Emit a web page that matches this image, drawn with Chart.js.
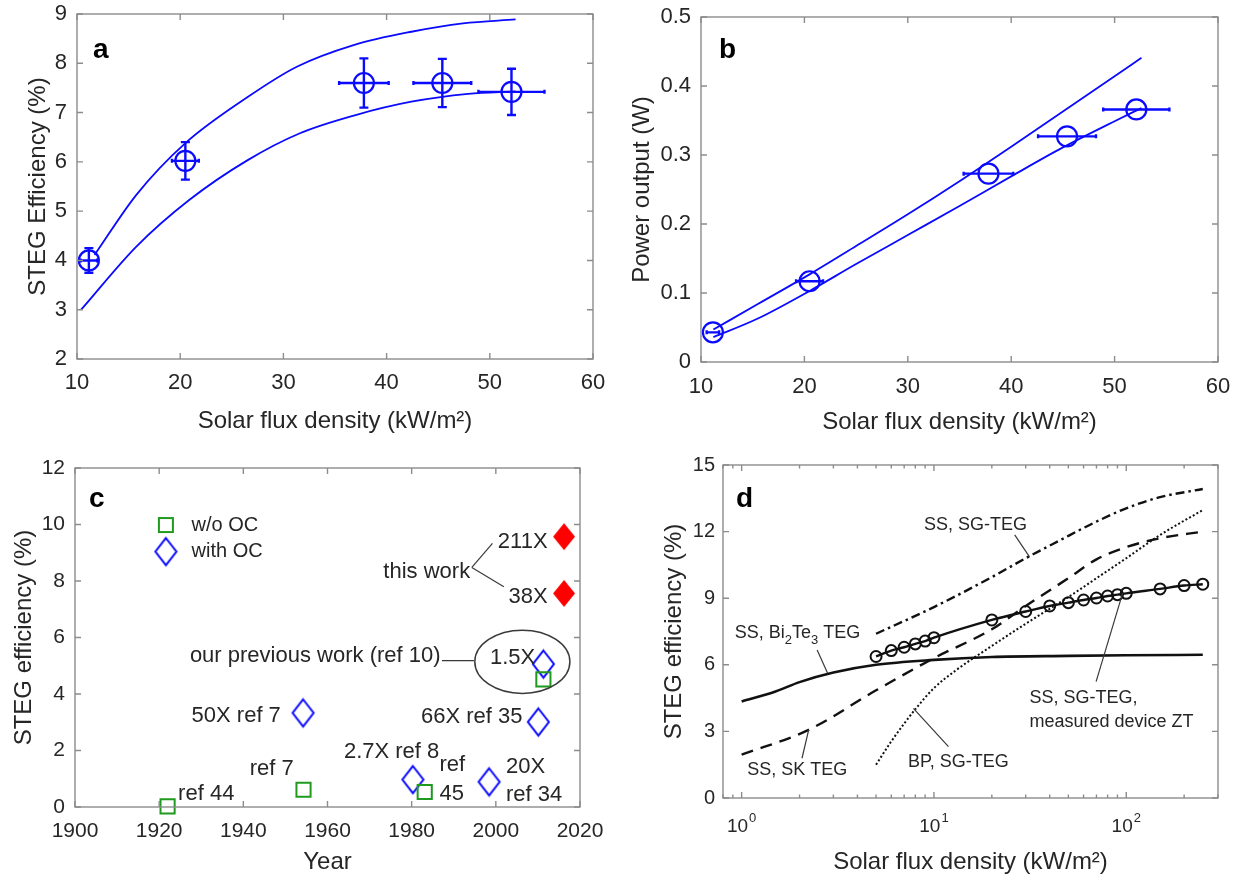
<!DOCTYPE html>
<html><head><meta charset="utf-8">
<script src="https://cdn.jsdelivr.net/npm/chart.js@4.4.1/dist/chart.umd.min.js"></script>
<style>
html,body{margin:0;padding:0;background:#fff;}
body{width:1239px;height:877px;position:relative;overflow:hidden;}
.p{position:absolute;}
canvas{display:block;}
</style></head><body>
<div class="p" style="left:0;top:0"><canvas id="ca" width="620" height="440"></canvas></div>
<div class="p" style="left:620px;top:0"><canvas id="cb" width="619" height="440"></canvas></div>
<div class="p" style="left:0;top:440px"><canvas id="cc" width="620" height="437"></canvas></div>
<div class="p" style="left:620px;top:440px"><canvas id="cd" width="619" height="437"></canvas></div>
<script>
// ---------- Panel a data ----------
const fluxMeas = [11.15, 20.5, 37.8, 45.4, 52.1];
const effMeas = [4.0, 6.02, 7.6, 7.6, 7.42];
const effErr = [0.25, 0.38, 0.5, 0.49, 0.47];
const fluxErr = [0.8, 1.3, 2.4, 2.8, 3.2];
const effUpperFlux = [11.7, 15.75, 20.5, 26.5, 31.3, 36.8, 42.4, 47.4, 52.5];
const effUpper = [4.11, 5.33, 6.38, 7.31, 7.93, 8.37, 8.64, 8.81, 8.89];
const effLowerFlux = [10.4, 15.75, 20.9, 26.5, 31.6, 37, 42.4, 47.9, 52.5];
const effLower = [3.0, 4.28, 5.23, 6.03, 6.58, 6.95, 7.22, 7.38, 7.43];
// ---------- Panel b data ----------
const powMeas = [0.043, 0.117, 0.273, 0.327, 0.366];
const powFluxErr = [0.6, 1.3, 2.4, 2.8, 3.2];
const powCurveFlux = [11.2, 15.5, 20.5, 25, 30, 35, 40, 45, 50, 52.6];
const powUpper = [0.047, 0.084, 0.127, 0.168, 0.214, 0.262, 0.312, 0.363, 0.414, 0.441];
const powLower = [0.036, 0.063, 0.103, 0.142, 0.184, 0.226, 0.269, 0.311, 0.349, 0.368];
// ---------- Panel c data ----------
const yearsNoOC = [1922, 1954.3, 1983.1, 2011.3];
const effNoOC = [0.02, 0.61, 0.53, 4.52];
const yearsOC = [1954.2, 1980.3, 1998.4, 2010.1, 2011.3];
const effOC = [3.33, 0.97, 0.89, 3.01, 5.06];
const yearsThisWork = [2016.2, 2016.2];
const effThisWork = [9.57, 7.56];
// ---------- Panel d data ----------
const fluxBi = [1, 1.5, 2, 3, 5, 10, 20, 50, 100, 250];
const effBi = [4.35, 4.8, 5.22, 5.65, 6.0, 6.22, 6.35, 6.4, 6.43, 6.45];
const fluxSK = [1, 2.23, 5, 10, 20, 30, 50, 70, 100, 150, 250];
const effSK = [1.95, 3.07, 4.85, 6.3, 7.6, 8.65, 9.9, 10.75, 11.3, 11.7, 12.0];
const fluxSG = [5, 10, 20, 30, 45, 67, 100, 148, 250];
const effSG = [7.4, 8.6, 9.95, 10.8, 11.6, 12.37, 13.05, 13.54, 13.92];
const fluxBP = [5, 6, 7, 8, 10, 13, 20, 30, 50, 70, 100, 150, 250];
const effBP = [1.5, 2.55, 3.35, 4.0, 4.95, 5.75, 6.85, 7.85, 9.05, 9.9, 10.8, 11.85, 12.97];
const fluxZT = [5, 6, 7, 8, 9, 10, 20, 30, 40, 50, 60, 70, 80, 90, 100, 150, 200, 250];
const effZT = [6.375, 6.64, 6.79, 6.94, 7.07, 7.22, 8.02, 8.4, 8.65, 8.8, 8.92, 9.01, 9.1, 9.16, 9.22, 9.42, 9.57, 9.63];
// ---------- log tick labels (panel d) ----------
const logTickValues = [1, 10, 100];
const logTickBases = ['10', '10', '10'];
const logTickExps = ['0', '1', '2'];

const FONT = '"Liberation Sans", Arial, Helvetica, sans-serif';
const TXT = '#262626';
const BLUE = '#0a0aff';
const GREEN = '#1f9a1f';
Chart.defaults.font.family = FONT;
Chart.defaults.color = TXT;

const zip = (xs, ys) => xs.map((x, i) => ({x, y: ys[i]}));

function diamondImg(w, h, stroke, fill, lw) {
  const c = document.createElement('canvas');
  c.width = w + 6; c.height = h + 6;
  const g = c.getContext('2d');
  const cx = c.width / 2, cy = c.height / 2;
  g.beginPath();
  g.moveTo(cx, cy - h / 2); g.lineTo(cx + w / 2, cy); g.lineTo(cx, cy + h / 2); g.lineTo(cx - w / 2, cy); g.closePath();
  if (fill) { g.fillStyle = fill; g.fill(); }
  if (stroke) { g.strokeStyle = stroke; g.lineWidth = lw; g.stroke(); }
  return c;
}
const blueDiamond = diamondImg(21, 27, BLUE, null, 2);
const redDiamond = diamondImg(22, 27, null, '#ff0000', 0);

// frame + inward ticks (MATLAB style box)
const framePlugin = {
  id: 'frame',
  afterDraw(chart, args, opts) {
    const {ctx, chartArea: a, scales} = chart;
    ctx.save();
    ctx.strokeStyle = '#8c8c8c';
    ctx.lineWidth = 1.4;
    ctx.strokeRect(a.left, a.top, a.right - a.left, a.bottom - a.top);
    const L = 6;
    ctx.beginPath();
    const xs = scales.x, ys = scales.y;
    let xt;
    if (xs.type === 'logarithmic') {
      xt = [];
      for (let e = Math.floor(Math.log10(xs.min)); e <= Math.ceil(Math.log10(xs.max)); e++) {
        for (let m = 1; m <= 9; m++) {
          const v = m * Math.pow(10, e);
          if (v >= xs.min && v <= xs.max) xt.push({v, len: m === 1 ? L : 3.5});
        }
      }
    } else {
      xt = xs.ticks.map(t => ({v: t.value, len: L}));
    }
    xt.forEach(t => {
      const px = xs.getPixelForValue(t.v);
      ctx.moveTo(px, a.bottom); ctx.lineTo(px, a.bottom - t.len);
      ctx.moveTo(px, a.top); ctx.lineTo(px, a.top + t.len);
    });
    ys.ticks.forEach(t => {
      const py = ys.getPixelForValue(t.value);
      ctx.moveTo(a.left, py); ctx.lineTo(a.left + L, py);
      ctx.moveTo(a.right, py); ctx.lineTo(a.right - L, py);
    });
    ctx.stroke();
    // power-of-ten labels for log axis
    if (opts && opts.logLabels) {
      ctx.fillStyle = TXT;
      ctx.textBaseline = 'middle';
      ctx.textAlign = 'left';
      logTickValues.forEach((v, i) => {
        const px = xs.getPixelForValue(v);
        ctx.font = '19px ' + FONT;
        const wb = ctx.measureText(logTickBases[i]).width;
        ctx.font = '13px ' + FONT;
        const we = ctx.measureText(logTickExps[i]).width;
        const x0 = px - (wb + we + 1) / 2;
        const yb = a.bottom + opts.logLabels.dy;
        ctx.font = '19px ' + FONT;
        ctx.fillText(logTickBases[i], x0, yb);
        ctx.font = '13px ' + FONT;
        ctx.fillText(logTickExps[i], x0 + wb + 1, yb - 9);
      });
    }
    ctx.restore();
  }
};

// error bars drawn through the chart scales
const errPlugin = {
  id: 'errbars',
  afterDatasetsDraw(chart) {
    const {ctx, scales: {x, y}} = chart;
    chart.data.datasets.forEach(ds => {
      if (!ds.xErr && !ds.yErr) return;
      ctx.save();
      ctx.strokeStyle = ds.errColor || BLUE;
      ctx.lineWidth = 2.4;
      ctx.beginPath();
      ds.data.forEach((p, i) => {
        const px = x.getPixelForValue(p.x), py = y.getPixelForValue(p.y);
        if (ds.yErr) {
          const t = y.getPixelForValue(p.y + ds.yErr[i]), b = y.getPixelForValue(p.y - ds.yErr[i]);
          ctx.moveTo(px, t); ctx.lineTo(px, b);
          ctx.moveTo(px - 4.5, t); ctx.lineTo(px + 4.5, t);
          ctx.moveTo(px - 4.5, b); ctx.lineTo(px + 4.5, b);
        }
        if (ds.xErr) {
          const l = x.getPixelForValue(p.x - ds.xErr[i]), r = x.getPixelForValue(p.x + ds.xErr[i]);
          ctx.moveTo(l, py); ctx.lineTo(r, py);
          ctx.moveTo(l, py - 2); ctx.lineTo(l, py + 2);
          ctx.moveTo(r, py - 2); ctx.lineTo(r, py + 2);
        }
      });
      ctx.stroke();
      ctx.restore();
    });
  }
};

// annotation texts, leader lines, ellipse, legend markers, panel tag
const notePlugin = {
  id: 'notes',
  afterDraw(chart, args, o) {
    const {ctx, chartArea: a, scales: {x, y}} = chart;
    ctx.save();
    (o.lines || []).forEach(l => {
      ctx.strokeStyle = '#3a3a3a'; ctx.lineWidth = 1.2;
      ctx.beginPath();
      ctx.moveTo(x.getPixelForValue(l[0]), y.getPixelForValue(l[1]));
      ctx.lineTo(x.getPixelForValue(l[2]), y.getPixelForValue(l[3]));
      ctx.stroke();
    });
    (o.ellipses || []).forEach(e => {
      const cx = x.getPixelForValue(e.x), cy = y.getPixelForValue(e.y);
      const rx = Math.abs(x.getPixelForValue(e.x + e.rx) - cx), ry = Math.abs(y.getPixelForValue(e.y + e.ry) - cy);
      ctx.strokeStyle = '#3a3a3a'; ctx.lineWidth = 1.5;
      ctx.beginPath(); ctx.ellipse(cx, cy, rx, ry, 0, 0, Math.PI * 2); ctx.stroke();
    });
    (o.markers || []).forEach(m => {
      const px = x.getPixelForValue(m.x), py = y.getPixelForValue(m.y);
      if (m.shape === 'square') {
        ctx.strokeStyle = GREEN; ctx.lineWidth = 2;
        ctx.strokeRect(px - 7, py - 7, 14, 14);
      } else {
        ctx.drawImage(blueDiamond, px - blueDiamond.width / 2, py - blueDiamond.height / 2);
      }
    });
    ctx.fillStyle = TXT;
    ctx.textBaseline = 'middle';
    (o.texts || []).forEach(t => {
      const size = t.size || o.size || 20;
      let px = x.getPixelForValue(t.x);
      const py = y.getPixelForValue(t.y);
      if (t.parts) {
        ctx.textAlign = 'left';
        t.parts.forEach(([s, sub]) => {
          ctx.font = (sub ? Math.round(size * 0.72) : size) + 'px ' + FONT;
          ctx.fillText(s, px, py + (sub ? size * 0.42 : 0));
          px += ctx.measureText(s).width;
        });
      } else {
        ctx.font = size + 'px ' + FONT;
        ctx.textAlign = t.align || 'left';
        ctx.fillText(t.t, px, py);
      }
    });
    if (o.tag) {
      ctx.font = 'bold 28px ' + FONT;
      ctx.fillStyle = '#000';
      ctx.textAlign = 'left';
      ctx.textBaseline = 'alphabetic';
      ctx.fillText(o.tag.t, a.left + o.tag.dx, a.top + o.tag.dy);
    }
    ctx.restore();
  }
};

function axis(c) {
  const ax = {
    type: c.type || 'linear',
    min: c.min, max: c.max,
    ticks: {autoSkip: false, maxRotation: 0, minRotation: 0, padding: c.tickPad, font: {size: c.tickSize}, color: TXT,
      callback: c.fmt || (v => String(+Number(v).toFixed(2)))},
    grid: {display: false, drawTicks: false},
    border: {display: false},
    title: {display: true, text: c.title, color: TXT, font: {size: c.titleSize || 24, lineHeight: 1.2},
      padding: c.isX ? {top: 0, bottom: c.titlePad} : {top: c.titlePad, bottom: 0}},
    afterFit(s) {
      if (c.isX) s.height = c.fixed; else s.width = c.fixed;
      s.paddingTop = 0; s.paddingBottom = 0; s.paddingLeft = 0; s.paddingRight = 0;
    }
  };
  if (c.step) ax.ticks.stepSize = c.step;
  if (c.afterBuildTicks) ax.afterBuildTicks = c.afterBuildTicks;
  return ax;
}

function baseOptions(pad, xAx, yAx, plugs) {
  return {
    responsive: false, devicePixelRatio: 1, animation: false,
    layout: {padding: pad},
    plugins: Object.assign({legend: {display: false}, tooltip: {enabled: false}}, plugs),
    scales: {x: xAx, y: yAx}
  };
}
const PL = [framePlugin, errPlugin, notePlugin];
const FLUX_TITLE = 'Solar flux density (kW/m\u00B2)';

// ---------- Panel a ----------
new Chart(document.getElementById('ca'), {
  type: 'scatter',
  data: {datasets: [
    {data: zip(effUpperFlux, effUpper), showLine: true, borderColor: BLUE, borderWidth: 1.8, pointRadius: 0, cubicInterpolationMode: 'monotone'},
    {data: zip(effLowerFlux, effLower), showLine: true, borderColor: BLUE, borderWidth: 1.8, pointRadius: 0, cubicInterpolationMode: 'monotone'},
    {data: zip(fluxMeas, effMeas), pointStyle: 'circle', pointRadius: 10, pointBorderWidth: 2.2, pointBorderColor: BLUE,
      pointBackgroundColor: 'rgba(0,0,0,0)', xErr: fluxErr, yErr: effErr, clip: false}
  ]},
  options: baseOptions({left: 0, top: 14, right: 27, bottom: 0},
    axis({isX: true, min: 10, max: 60, step: 10, title: FLUX_TITLE, tickSize: 22, tickPad: 11, titlePad: 4, fixed: 81}),
    axis({min: 2, max: 9, step: 1, title: 'STEG Efficiency (%)', tickSize: 22, tickPad: 10, titlePad: 24, fixed: 77}),
    {notes: {tag: {t: 'a', dx: 16, dy: 44}}}),
  plugins: PL
});

// ---------- Panel b ----------
new Chart(document.getElementById('cb'), {
  type: 'scatter',
  data: {datasets: [
    {data: zip(powCurveFlux, powUpper), showLine: true, borderColor: BLUE, borderWidth: 1.8, pointRadius: 0, cubicInterpolationMode: 'monotone'},
    {data: zip(powCurveFlux, powLower), showLine: true, borderColor: BLUE, borderWidth: 1.8, pointRadius: 0, cubicInterpolationMode: 'monotone'},
    {data: zip(fluxMeas, powMeas), pointStyle: 'circle', pointRadius: 10, pointBorderWidth: 2.2, pointBorderColor: BLUE,
      pointBackgroundColor: 'rgba(0,0,0,0)', xErr: powFluxErr, clip: false}
  ]},
  options: baseOptions({left: 0, top: 17, right: 21, bottom: 0},
    axis({isX: true, min: 10, max: 60, step: 10, title: FLUX_TITLE, tickSize: 22, tickPad: 12, titlePad: 3, fixed: 78}),
    axis({min: 0, max: 0.5, step: 0.1, title: 'Power output (W)', tickSize: 22, tickPad: 10, titlePad: 8, fixed: 81,
      fmt: v => String(+Number(v).toFixed(1))}),
    {notes: {tag: {t: 'b', dx: 18, dy: 41}}}),
  plugins: PL
});

// ---------- Panel c ----------
new Chart(document.getElementById('cc'), {
  type: 'scatter',
  data: {datasets: [
    {data: zip(yearsNoOC, effNoOC), pointStyle: 'rect', pointRadius: 10, pointBorderWidth: 2, pointBorderColor: GREEN, pointBackgroundColor: 'rgba(0,0,0,0)', clip: false},
    {data: zip(yearsOC, effOC), pointStyle: blueDiamond, pointRadius: 10, clip: false},
    {data: zip(yearsThisWork, effThisWork), pointStyle: redDiamond, pointRadius: 10, clip: false}
  ]},
  options: baseOptions({left: 0, top: 28, right: 40, bottom: 0},
    axis({isX: true, min: 1900, max: 2020, step: 20, title: 'Year', tickSize: 21, tickPad: 12, titlePad: 0, fixed: 70, fmt: v => String(v)}),
    axis({min: 0, max: 12, step: 2, title: 'STEG efficiency (%)', tickSize: 21, tickPad: 10, titlePad: 10, fixed: 75}),
    {notes: {
      size: 22,
      tag: {t: 'c', dx: 14, dy: 39},
      markers: [{shape: 'square', x: 1921.6, y: 9.98}, {shape: 'diamond', x: 1921.6, y: 9.04}],
      texts: [
        {t: 'w/o OC', x: 1927.7, y: 9.98, size: 20},
        {t: 'with OC', x: 1927.7, y: 9.04, size: 20},
        {t: '211X', x: 2012.3, y: 9.39, align: 'right'},
        {t: '38X', x: 2012.3, y: 7.44, align: 'right'},
        {t: 'this work', x: 1993.9, y: 8.33, align: 'right'},
        {t: 'our previous work (ref 10)', x: 1927.3, y: 5.35},
        {t: '1.5X', x: 1998.6, y: 5.27},
        {t: '50X ref 7', x: 1927.7, y: 3.22},
        {t: '66X ref 35', x: 1982.2, y: 3.18},
        {t: '2.7X ref 8', x: 1963.9, y: 1.96},
        {t: 'ref', x: 1986.6, y: 1.49},
        {t: '45', x: 1986.6, y: 0.48},
        {t: '20X', x: 2002.4, y: 1.43},
        {t: 'ref 34', x: 2002.4, y: 0.42},
        {t: 'ref 7', x: 1941.5, y: 1.33},
        {t: 'ref 44', x: 1924.5, y: 0.48}
      ],
      lines: [[1994.3, 8.48, 1999.2, 9.33], [1994.3, 8.48, 2001.9, 7.8], [1987.2, 5.18, 1994.8, 5.18]],
      ellipses: [{x: 2006.3, y: 5.14, rx: 11.3, ry: 1.12}]
    }}),
  plugins: PL
});

// ---------- Panel d ----------
const blackLine = (xs, ys, dash, w) => ({data: zip(xs, ys), showLine: true, borderColor: '#111', borderWidth: w || 2.4,
  borderDash: dash || [], pointRadius: 0, cubicInterpolationMode: 'monotone'});
new Chart(document.getElementById('cd'), {
  type: 'scatter',
  data: {datasets: [
    blackLine(fluxBi, effBi, [], 2.6),
    blackLine(fluxSK, effSK, [12, 8], 2.4),
    blackLine(fluxSG, effSG, [9, 4, 2.5, 4], 2.4),
    blackLine(fluxBP, effBP, [2, 2.2], 2),
    Object.assign(blackLine(fluxZT, effZT, [], 2.4), {pointRadius: 5.5, pointBorderWidth: 2, pointBorderColor: '#111', pointBackgroundColor: 'rgba(0,0,0,0)', clip: false})
  ]},
  options: baseOptions({left: 0, top: 25, right: 21, bottom: 0},
    axis({isX: true, type: 'logarithmic', min: 0.8, max: 300, title: FLUX_TITLE, tickSize: 20, tickPad: 14, titlePad: 0, fixed: 79,
      afterBuildTicks: s => { s.ticks = logTickValues.map(v => ({value: v})); },
      fmt: () => ''}),
    axis({min: 0, max: 15, step: 3, title: 'STEG efficiency (%)', tickSize: 20, tickPad: 8, titlePad: 40, fixed: 103}),
    {frame: {logLabels: {dy: 29}},
     notes: {
      size: 18,
      tag: {t: 'd', dx: 13, dy: 42},
      texts: [
        {t: 'SS, SG-TEG', x: 8.87, y: 12.3},
        {parts: [['SS, Bi', 0], ['2', 1], ['Te', 0], ['3', 1], [' TEG', 0]], x: 0.92, y: 7.43},
        {t: 'SS, SK TEG', x: 1.07, y: 1.26},
        {t: 'BP, SG-TEG', x: 7.33, y: 1.64},
        {t: 'SS, SG-TEG,', x: 31.4, y: 4.49},
        {t: 'measured device ZT', x: 31.4, y: 3.44}
      ],
      lines: [[26.3, 11.85, 31.4, 10.86], [2.47, 6.67, 2.8, 5.62], [2.06, 1.79, 2.23, 3.06], [7.82, 4.04, 11.9, 2.31], [69.7, 5.24, 95.7, 9.22]]
    }}),
  plugins: PL
});
</script>
</body></html>
